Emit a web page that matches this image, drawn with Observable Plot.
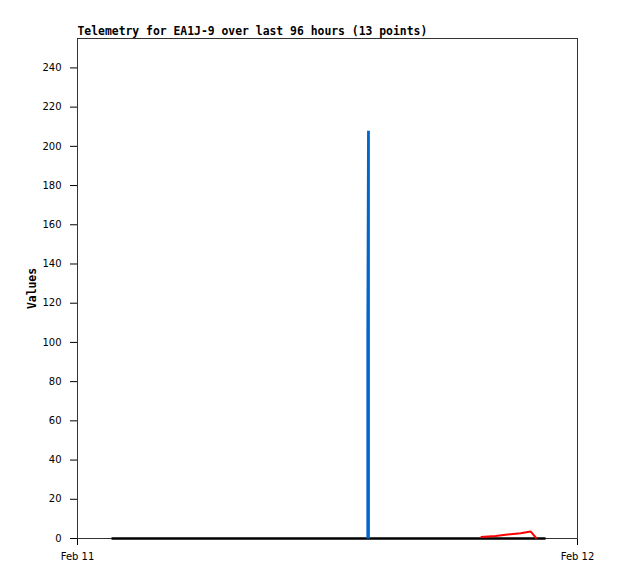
<!DOCTYPE html>
<html><head><meta charset="utf-8">
<script src="https://cdn.jsdelivr.net/npm/d3@7"></script>
<script src="https://cdn.jsdelivr.net/npm/@observablehq/plot@0.6"></script>
<style>html,body{margin:0;padding:0;background:#fff}</style>
</head><body><div id="chart"></div>
<script>
const title = "Telemetry for EA1J-9 over last 96 hours (13 points)";
const yLabel = "Values";
const xDomain = ["2024-02-11T00:00:00Z", "2024-02-12T00:00:00Z"];
const xTickDates = ["2024-02-11T00:00:00Z", "2024-02-12T00:00:00Z"];
const xTickLabels = ["Feb 11", "Feb 12"];
const yTicks = [0, 20, 40, 60, 80, 100, 120, 140, 160, 180, 200, 220, 240];
const yMax = 255;

const blackTimes = ["2024-02-11T01:38:00Z", "2024-02-11T22:28:00Z"];
const blackValues = [0, 0];
const blueTimes = ["2024-02-11T13:56:00Z", "2024-02-11T13:56:00Z", "2024-02-11T13:58:00Z", "2024-02-11T13:58:00Z"];
const blueValues = [0, 104, 208, 0];
const redTimes = ["2024-02-11T19:21:00Z", "2024-02-11T20:04:00Z", "2024-02-11T20:33:00Z", "2024-02-11T21:16:00Z", "2024-02-11T21:45:00Z", "2024-02-11T22:02:00Z"];
const redValues = [0.8, 1.3, 1.9, 2.7, 3.6, 0];

const mk = (times, vals) => times.map((t, i) => ({t: new Date(t), v: vals[i]}));
const black = mk(blackTimes, blackValues);
const blue = mk(blueTimes, blueValues);
const red = mk(redTimes, redValues);
const tickDates = xTickDates.map(d => new Date(d));
const fmtX = d => xTickLabels[tickDates.findIndex(t => +t === +d)];

const chart = Plot.plot({
  width: 618, height: 579,
  marginLeft: 77, marginRight: 41, marginTop: 38, marginBottom: 41,
  style: {background: "#fff", color: "#000", fontFamily: "DejaVu Sans", fontSize: "10px"},
  x: {type: "utc", domain: xDomain.map(d => new Date(d))},
  y: {domain: [0, yMax]},
  marks: [
    Plot.axisY({ticks: yTicks, tickSize: 7, tickPadding: 9, label: null, fontSize: 10, fontFamily: "DejaVu Sans"}),
    Plot.axisX({ticks: tickDates, tickFormat: fmtX, tickSize: 7, tickPadding: 7, label: null, fontSize: 10, fontFamily: "DejaVu Sans"}),
    Plot.frame({stroke: "#333"}),
    Plot.line(black, {x: "t", y: "v", stroke: "#000", strokeWidth: 2.5, strokeLinecap: "butt"}),
    Plot.line(red, {x: "t", y: "v", stroke: "#ff0000", strokeWidth: 2, strokeLinecap: "butt", strokeLinejoin: "miter"}),
    Plot.line(blue, {x: "t", y: "v", stroke: "#0066cc", strokeWidth: 2.8, strokeLinecap: "butt", strokeLinejoin: "miter"}),
    Plot.text([title], {frameAnchor: "top-left", dy: -4, lineAnchor: "bottom", textAnchor: "start", fontWeight: "bold", fontFamily: "DejaVu Sans Mono", fontSize: 11.4}),
    Plot.text([yLabel], {frameAnchor: "left", dx: -45, rotate: -90, textAnchor: "middle", fontWeight: "bold", fontFamily: "DejaVu Sans Mono", fontSize: 11.4})
  ]
});
document.getElementById("chart").appendChild(chart);
</script>
</body></html>
